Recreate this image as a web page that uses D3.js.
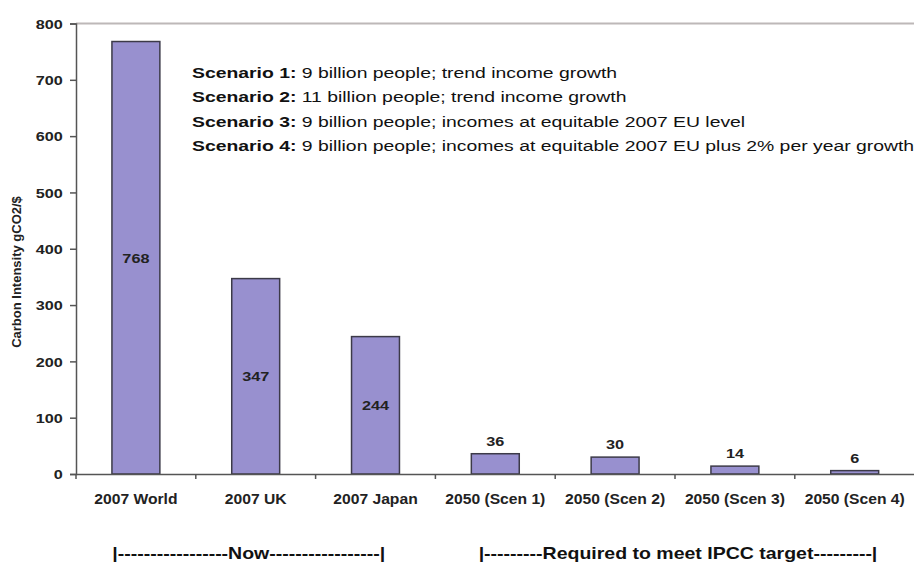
<!DOCTYPE html>
<html>
<head>
<meta charset="utf-8">
<script src="https://cdn.jsdelivr.net/npm/d3@7"></script>
<style>
  html, body { margin: 0; padding: 0; background: #fff; }
  svg { display: block; font-family: "Liberation Sans", Arial, sans-serif; }
</style>
</head>
<body>
<svg id="chart" width="914" height="563"></svg>
<script>
const categories = ["2007 World", "2007 UK", "2007 Japan", "2050 (Scen 1)", "2050 (Scen 2)", "2050 (Scen 3)", "2050 (Scen 4)"];
const values = [768, 347, 244, 36, 30, 14, 6];
const yTicks = [0, 100, 200, 300, 400, 500, 600, 700, 800];
const yLabel = "Carbon Intensity gCO2/$";
const scenarioBold = ["Scenario 1:", "Scenario 2:", "Scenario 3:", "Scenario 4:"];
const scenarioText = [
  " 9 billion people; trend income growth",
  " 11 billion people; trend income growth",
  " 9 billion people; incomes at equitable 2007 EU level",
  " 9 billion people; incomes at equitable 2007 EU plus 2% per year growth"
];
const groupLabels = ["|-----------------Now-----------------|", "|---------Required to meet IPCC target---------|"];
const groupSpans = [[0, 2], [3, 6]];

const svg = d3.select("#chart");
const mLeft = 76, mRight = 914.6, mTop = 23.5, mBottom = 474;
const FONT = "'Liberation Sans', Arial, sans-serif";

const x = d3.scaleBand().domain(categories).range([mLeft, mRight]).paddingInner(0.6).paddingOuter(0.3);
const xb = d3.scaleBand().domain(categories).range([mLeft, mRight]);
const y = d3.scaleLinear().domain([0, 800]).range([mBottom, mTop]);

// top border
svg.append("line").attr("x1", mLeft).attr("x2", 914).attr("y1", y(800)).attr("y2", y(800))
  .attr("stroke", "#bdb8b8").attr("stroke-width", 2);

// bars
svg.selectAll("rect.bar").data(values).enter().append("rect")
  .attr("class", "bar")
  .attr("x", (d, i) => x(categories[i]))
  .attr("width", x.bandwidth())
  .attr("y", d => y(d))
  .attr("height", d => y(0) - y(d))
  .attr("fill", "#9890cf")
  .attr("stroke", "#3c3a48")
  .attr("stroke-width", 1.5);

// value labels (horizontally stretched like the source)
svg.selectAll("text.val").data(values).enter().append("text")
  .attr("class", "val")
  .attr("transform", (d, i) => {
    const cx = x(categories[i]) + x.bandwidth() / 2;
    const cy = d > 100 ? (y(d) + y(0)) / 2 + 5 : y(d) - 8;
    return `translate(${cx},${cy}) scale(1.25,1)`;
  })
  .attr("text-anchor", "middle")
  .attr("font-size", 13).attr("font-weight", "bold").attr("fill", "#222")
  .text(d => d);

// y axis
const yAxis = d3.axisLeft(y).tickValues(yTicks).tickSize(6).tickPadding(4).tickFormat(d3.format("d"));
const gy = svg.append("g").attr("transform", `translate(${mLeft},0)`).call(yAxis);
gy.select(".domain").attr("stroke", "#555").attr("stroke-width", 1.5);
gy.selectAll(".tick line").attr("stroke", "#555").attr("stroke-width", 1.5);
gy.selectAll(".tick text").attr("font-size", 13.5).attr("font-weight", "bold").attr("fill", "#222")
  .attr("font-family", FONT).attr("x", -11).attr("dy", "0.36em")
  .attr("transform", "scale(1.2,1)");

// x axis
const xAxis = d3.axisBottom(xb).tickSize(0).tickPadding(0);
const gx = svg.append("g").attr("transform", `translate(0,${mBottom})`).call(xAxis);
gx.select(".domain").attr("stroke", "#555").attr("stroke-width", 1.5);
gx.selectAll(".tick text").attr("font-size", 14.5).attr("font-weight", "bold").attr("fill", "#222")
  .attr("font-family", FONT).attr("y", 30).attr("dy", 0)
  .attr("transform", "scale(1.08,1)");
// category boundary ticks
svg.selectAll("line.xb").data(categories).enter().append("line")
  .attr("x1", d => xb(d)).attr("x2", d => xb(d))
  .attr("y1", mBottom).attr("y2", mBottom + 5)
  .attr("stroke", "#555").attr("stroke-width", 1.5);

// y label
svg.append("text")
  .attr("transform", `translate(21,272) rotate(-90)`)
  .attr("text-anchor", "middle")
  .attr("font-size", 13).attr("font-weight", "bold").attr("fill", "#222")
  .text(yLabel);

// scenario notes
scenarioBold.forEach((b, i) => {
  const t = svg.append("text")
    .attr("transform", `translate(192,${78 + i * 24.3}) scale(1.25,1)`)
    .attr("font-size", 15.5).attr("fill", "#111");
  t.append("tspan").attr("font-weight", "bold").text(b);
  t.append("tspan").text(scenarioText[i]);
});

// group labels
groupLabels.forEach((g, i) => {
  const [a, b] = groupSpans[i];
  const cx = (xb(categories[a]) + xb(categories[b]) + xb.bandwidth()) / 2;
  svg.append("text")
    .attr("transform", `translate(${cx - (i === 0 ? 7 : -3)},559) scale(1.22,1)`)
    .attr("text-anchor", "middle")
    .attr("font-size", 16).attr("font-weight", "bold").attr("fill", "#111")
    .text(g);
});
</script>
</body>
</html>
